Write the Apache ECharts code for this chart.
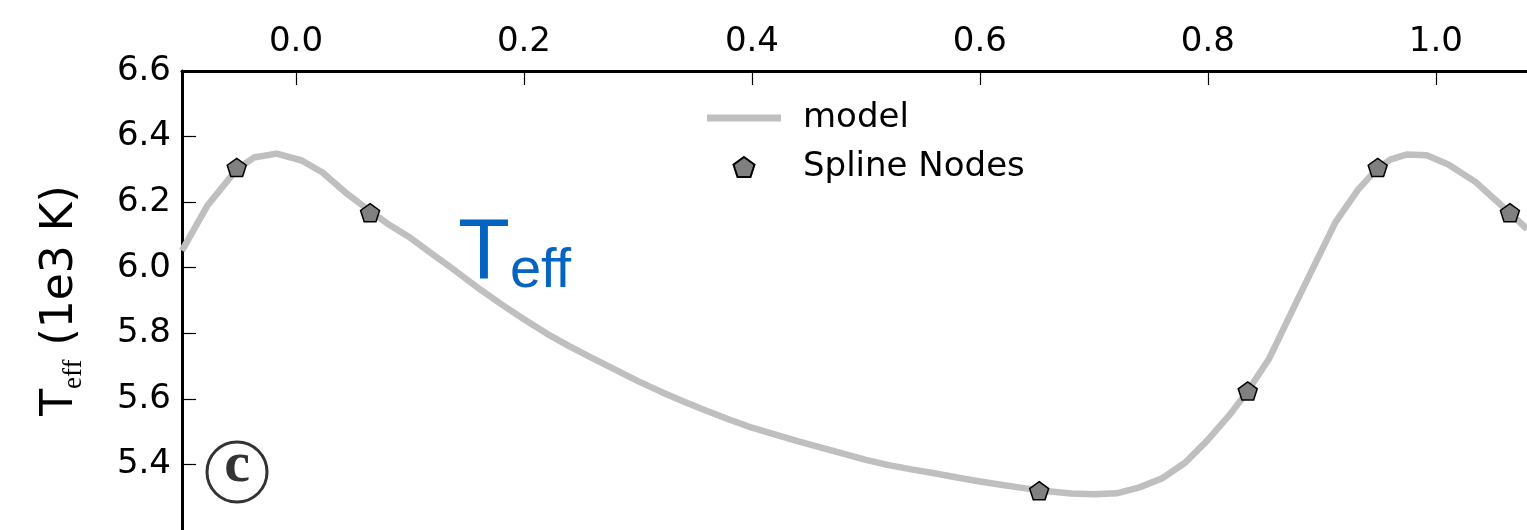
<!DOCTYPE html>
<html>
<head>
<meta charset="utf-8">
<script src="https://cdn.jsdelivr.net/npm/echarts@6/dist/echarts.min.js"></script>
<style>
html,body{margin:0;padding:0;background:#fff;overflow:hidden;}
#chart{width:1527px;height:530px;}
</style>
</head>
<body>
<div id="chart"></div>
<script>
// ---- data ----
const modelPhase = [-0.100,-0.078,-0.052,-0.037,-0.017,0.005,0.023,0.045,0.066,0.080,0.100,0.120,0.140,0.160,0.180,0.200,0.220,0.240,0.260,0.280,0.300,0.320,0.340,0.360,0.380,0.400,0.420,0.440,0.460,0.480,0.500,0.520,0.540,0.560,0.580,0.600,0.620,0.640,0.660,0.680,0.700,0.720,0.740,0.760,0.780,0.800,0.820,0.835,0.854,0.880,0.912,0.932,0.948,0.960,0.974,0.992,1.011,1.035,1.064,1.080];
const modelTeff  = [6.052,6.188,6.300,6.336,6.348,6.327,6.291,6.225,6.170,6.135,6.092,6.041,5.990,5.938,5.889,5.843,5.799,5.760,5.724,5.689,5.654,5.622,5.592,5.564,5.537,5.512,5.492,5.471,5.452,5.433,5.414,5.398,5.385,5.373,5.360,5.348,5.337,5.327,5.318,5.311,5.309,5.312,5.330,5.358,5.405,5.475,5.555,5.624,5.724,5.912,6.139,6.239,6.300,6.330,6.345,6.343,6.315,6.261,6.170,6.118];
const nodePhase = [-0.052, 0.065, 0.652, 0.835, 0.949, 1.065];
const nodeTeff  = [6.306, 6.168, 5.320, 5.624, 6.306, 6.168];
const xTicks = [0.0, 0.2, 0.4, 0.6, 0.8, 1.0];
const yTicks = [5.4, 5.6, 5.8, 6.0, 6.2, 6.4, 6.6];

const modelData = modelPhase.map((p, i) => [p, modelTeff[i]]);
const nodeData = nodePhase.map((p, i) => [p, nodeTeff[i]]);

const pentagon = 'path://M0,-1L0.9511,-0.309L0.5878,0.809L-0.5878,0.809L-0.9511,-0.309Z';
const FONT = 'DejaVu Sans';

const chart = echarts.init(document.getElementById('chart'), null, {renderer: 'canvas'});
chart.setOption({
  animation: false,
  backgroundColor: '#fff',
  grid: {left: 182, top: 71, right: 0, bottom: -3, containLabel: false},
  xAxis: {
    type: 'value', position: 'top', min: -0.1, max: 1.08,
    axisLine: {show: true, onZero: false, lineStyle: {color: '#000', width: 3}},
    axisTick: {show: true, inside: true, length: 14, lineStyle: {color: '#000', width: 1.2}, customValues: xTicks},
    axisLabel: {show: true, customValues: xTicks, margin: 12, fontSize: 34, fontFamily: FONT, color: '#000',
      formatter: v => v.toFixed(1)},
    splitLine: {show: false}
  },
  yAxis: {
    type: 'value', min: 5.2, max: 6.6,
    axisLine: {show: true, onZero: false, lineStyle: {color: '#000', width: 3}},
    axisTick: {show: true, inside: true, length: 14, lineStyle: {color: '#000', width: 1.2}, customValues: yTicks},
    axisLabel: {show: true, customValues: yTicks, margin: 11, fontSize: 34, fontFamily: FONT, color: '#000',
      formatter: v => v.toFixed(1)},
    splitLine: {show: false},
    name: '{t|T}{s|eff}{t| (1e3 K)}',
    nameLocation: 'middle',
    nameGap: 95,
    nameTextStyle: {
      color: '#000', fontSize: 44, fontFamily: FONT,
      rich: {
        t: {fontSize: 44, fontFamily: FONT, color: '#000', lineHeight: 52},
        s: {fontSize: 27, fontFamily: 'Liberation Serif', color: '#000', lineHeight: 20, verticalAlign: 'bottom'}
      }
    }
  },
  legend: {
    show: true, orient: 'vertical', left: 702, top: 96,
    itemWidth: 74, itemHeight: 20, itemGap: 15,
    symbolKeepAspect: true,
    textStyle: {fontSize: 34, fontFamily: FONT, color: '#000', padding: [0, 0, 0, 17]},
    data: [
      {name: 'model', icon: 'path://M0,0H74V7H0Z', itemStyle: {color: '#bfbfbf', borderWidth: 0}},
      {name: 'Spline Nodes', icon: pentagon}
    ]
  },
  graphic: [
    {
      type: 'text', x: 458, y: 209.5, z: 10,
      style: {
        text: '{T|T}{e|eff}', align: 'left', verticalAlign: 'top',
        rich: {
          T: {fontSize: 85, fontFamily: 'Liberation Sans', fill: '#0563c1', lineHeight: 90},
          e: {fontSize: 56, fontFamily: 'Liberation Sans', fill: '#0563c1', lineHeight: 56, verticalAlign: 'bottom'}
        }
      }
    },
    {
      type: 'circle', shape: {cx: 237, cy: 472, r: 30}, z: 10,
      style: {fill: 'none', stroke: '#333', lineWidth: 3}
    },
    {
      type: 'text', x: 237, y: 466, z: 10,
      style: {text: 'c', fontSize: 58, fontFamily: 'Liberation Serif', fontWeight: 'bold', fill: '#333',
        align: 'center', verticalAlign: 'middle'}
    }
  ],
  series: [
    {
      name: 'model', type: 'line', data: modelData, showSymbol: false, symbol: 'none',
      lineStyle: {color: '#bfbfbf', width: 6.5}, itemStyle: {color: '#bfbfbf'}, z: 2, clip: true
    },
    {
      name: 'Spline Nodes', type: 'scatter', data: nodeData, symbol: pentagon, symbolSize: 19,
      symbolKeepAspect: true,
      itemStyle: {color: '#808080', borderColor: '#000', borderWidth: 1.5, opacity: 1}, z: 3
    }
  ]
});
</script>
</body>
</html>
